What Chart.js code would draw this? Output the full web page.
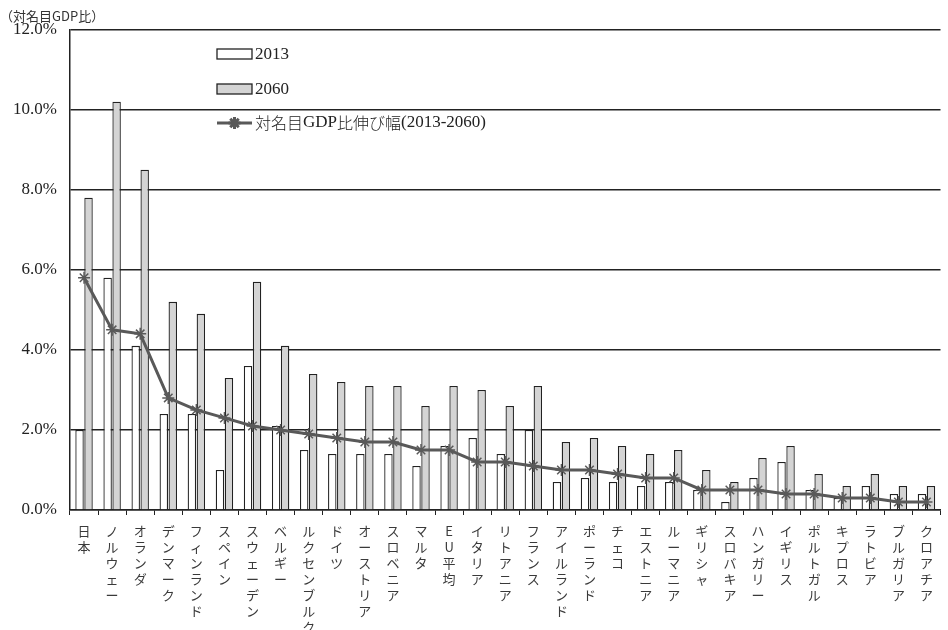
<!DOCTYPE html>
<html>
<head>
<meta charset="utf-8">
<script src="https://cdn.jsdelivr.net/npm/chart.js@4/dist/chart.umd.min.js"></script>
<style>
html,body{margin:0;padding:0;background:#fff;}
#wrap{width:948px;height:630px;position:relative;}
</style>
</head>
<body>
<div id="wrap"><canvas id="c" width="948" height="630"></canvas></div>
<script>
const categories = ["日本","ノルウェー","オランダ","デンマーク","フィンランド","スペイン","スウェーデン","ベルギー","ルクセンブルク","ドイツ","オーストリア","スロベニア","マルタ","EU平均","イタリア","リトアニア","フランス","アイルランド","ポーランド","チェコ","エストニア","ルーマニア","ギリシャ","スロバキア","ハンガリー","イギリス","ポルトガル","キプロス","ラトビア","ブルガリア","クロアチア"];
const values2013 = [2.0,5.8,4.1,2.4,2.4,1.0,3.6,2.1,1.5,1.4,1.4,1.4,1.1,1.6,1.8,1.4,2.0,0.7,0.8,0.7,0.6,0.7,0.5,0.2,0.8,1.2,0.5,0.3,0.6,0.4,0.4];
const values2060 = [7.8,10.2,8.5,5.2,4.9,3.3,5.7,4.1,3.4,3.2,3.1,3.1,2.6,3.1,3.0,2.6,3.1,1.7,1.8,1.6,1.4,1.5,1.0,0.7,1.3,1.6,0.9,0.6,0.9,0.6,0.6];
const increase = [5.8,4.5,4.4,2.8,2.5,2.3,2.1,2.0,1.9,1.8,1.7,1.7,1.5,1.5,1.2,1.2,1.1,1.0,1.0,0.9,0.8,0.8,0.5,0.5,0.5,0.4,0.4,0.3,0.3,0.2,0.2];
const yTicks = [0,2,4,6,8,10,12];
const unitLabel = "（対名目GDP比）";
const seriesNames = ["2013","2060","対名目GDP比伸び幅(2013-2060)"];

const serif = "'Liberation Serif','Noto Sans CJK JP',serif";
const jp = "'Noto Sans CJK JP','Liberation Serif',sans-serif";

const legendPlugin = {
  id: 'customLegend',
  afterDraw(chart) {
    const ctx = chart.ctx;
    const ds = chart.data.datasets;
    const x0 = 217, boxW = 35, boxH = 10;
    const rows = [54, 89, 123];
    ctx.save();
    ctx.font = "17px " + serif;
    ctx.textBaseline = 'middle';
    ctx.fillStyle = '#222';
    [0,1].forEach(i => {
      const y = rows[i];
      ctx.fillStyle = ds[i].backgroundColor;
      ctx.fillRect(x0, y - boxH/2, boxW, boxH);
      ctx.strokeStyle = ds[i].borderColor;
      ctx.lineWidth = 1.3;
      ctx.strokeRect(x0, y - boxH/2, boxW, boxH);
      ctx.fillStyle = '#222';
      ctx.fillText(ds[i].label, x0 + boxW + 3, y + 1);
    });
    const y = rows[2];
    ctx.strokeStyle = ds[2].borderColor;
    ctx.lineWidth = 3;
    ctx.beginPath(); ctx.moveTo(x0, y); ctx.lineTo(x0 + boxW, y); ctx.stroke();
    Chart.helpers.drawPoint(ctx, {pointStyle:'star', radius:6, borderWidth:1.5}, x0 + boxW/2, y);
    ctx.fillStyle = '#222';
    const txt = ds[2].label;
    let x = x0 + boxW + 3;
    const parts = txt.match(/[\u3000-\u9fff]+|[^\u3000-\u9fff]+/g);
    parts.forEach(p => {
      const isJ = /[\u3000-\u9fff]/.test(p);
      ctx.font = isJ ? "300 16px " + jp : "17px " + serif;
      ctx.fillText(p, x, y);
      x += ctx.measureText(p).width;
    });
    ctx.restore();
  }
};

new Chart(document.getElementById('c'), {
  type: 'bar',
  data: {
    labels: categories,
    datasets: [
      {label: seriesNames[0], data: values2013, backgroundColor:'#ffffff', borderColor:'#222', borderWidth:1.3, order:2, categoryPercentage:0.64, barPercentage:0.94},
      {label: seriesNames[1], data: values2060, backgroundColor:'#d4d4d4', borderColor:'#222', borderWidth:1.3, order:2, categoryPercentage:0.64, barPercentage:0.94},
      {type:'line', label: seriesNames[2], data: increase, borderColor:'#595959', backgroundColor:'#595959', borderWidth:3, pointStyle:'star', pointRadius:6, pointBorderWidth:1.5, pointBorderColor:'#595959', tension:0, order:0}
    ]
  },
  options: {
    responsive:false, animation:false, devicePixelRatio:1,
    layout:{padding:{top:8,right:3,left:0,bottom:0}},
    plugins:{
      legend:{display:false},
      tooltip:{enabled:false},
      title:{display:true, text:unitLabel, align:'start', color:'#333', font:{family:jp, size:13, weight:'normal'}, padding:{top:0,bottom:6}}
    },
    scales:{
      x:{
        grid:{display:true, drawOnChartArea:false, drawTicks:true, tickLength:5, color:'#222', offset:true},
        border:{display:true, color:'#222', width:1.5},
        ticks:{autoSkip:false, maxRotation:0, minRotation:0, padding:8, color:'#3a3a3a',
          font:{family:jp, size:13, weight:'normal', lineHeight:'16px'},
          callback:function(v,i){ return Array.from(categories[i]); }},
        afterFit:function(s){ s.height = 120; }
      },
      y:{
        min:0, max:12,
        afterBuildTicks:function(s){ s.ticks = yTicks.map(v=>({value:v})); },
        grid:{color:'#222', lineWidth:1.4, drawTicks:false},
        border:{display:true, color:'#222', width:1.5},
        ticks:{padding:13, color:'#222', font:{family:serif, size:17}, callback:v=>v.toFixed(1)+'%'},
        afterFit:function(s){ s.width = 70; }
      }
    }
  },
  plugins:[legendPlugin]
});
</script>
</body>
</html>
